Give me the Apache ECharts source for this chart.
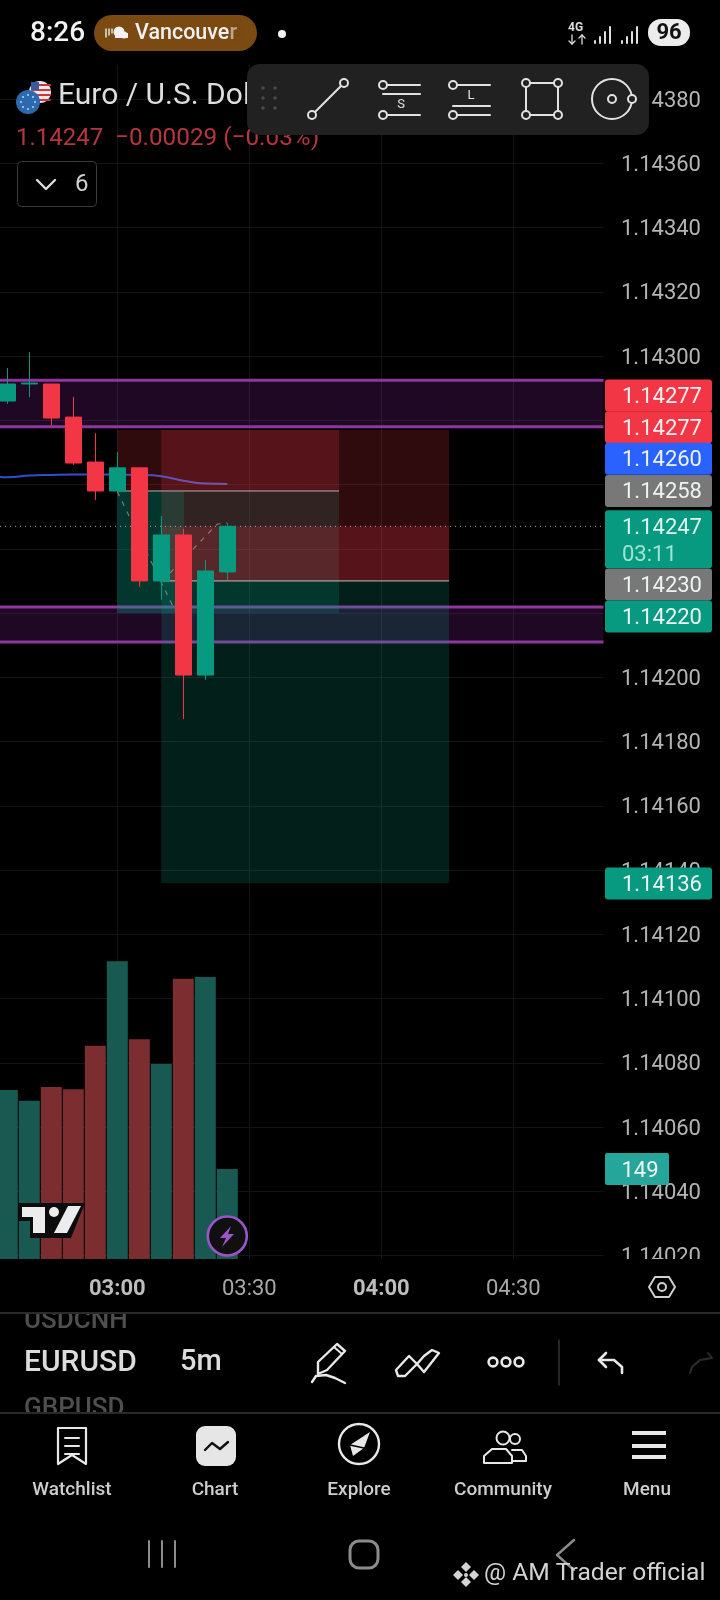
<!DOCTYPE html>
<html><head><meta charset="utf-8">
<style>html,body{margin:0;padding:0;background:#000}#c{width:720px;height:1600px}</style>
<script src="https://cdn.jsdelivr.net/npm/echarts@6/dist/echarts.min.js"></script>
</head><body><div id="c"></div>
<script>
// ---- data (minutes since 00:00, prices) ----
const candleTimes = [155,160,165,170,175,180,185,190,195,200,205];
const opens  = [1.14286,1.142913,1.142913,1.14281,1.14267,1.14258,1.142652,1.1423,1.142443,1.142007,1.142328];
const closes = [1.142913,1.142916,1.142807,1.142667,1.14258,1.142652,1.1423,1.142443,1.142007,1.142331,1.14247];
const lows   = [1.142851,1.142872,1.142784,1.142661,1.142552,1.14258,1.142281,1.142241,1.14187,1.141992,1.142303];
const highs  = [1.142963,1.143012,1.142913,1.142873,1.14276,1.142701,1.142652,1.142502,1.142462,1.142365,1.14248];
const volumes = [280,262,285,281,353,493,364,323,464,467,149];
const maTimes = [150,155,160,165,170,175,180,185,190,195,200,205];
const maValues = [1.14263,1.142623,1.142628,1.14263,1.142631,1.142631,1.142631,1.14263,1.142626,1.142612,1.142603,1.142602];
const priceTicks = [1.1402,1.1404,1.1406,1.1408,1.141,1.1412,1.1414,1.1416,1.1418,1.142,1.1422,1.1424,1.1426,1.1428,1.143,1.1432,1.1434,1.1436,1.1438];
const timeTicks = [180,210,240,270];
const timeTickLabels = ['03:00','03:30','04:00','04:30'];
const resistanceBand = [1.14278,1.142925];
const supportBand = [1.14211,1.142219];
const currentPrice = 1.14247;
// position tools: start, end, stop, entry, target
const toolA = [180,230.4,1.14277,1.14258,1.1422];
const toolB = [190,255.4,1.14277,1.1423,1.14136];
const zigA = [[180,1.142578],[192.7,1.142219]];
const zigB = [[192,1.142325],[202.7,1.142477],[205,1.14248]];
// price tags: shown text, price the tag sits at
const tagTexts = ['1.14277','1.14277','1.14260','1.14258','1.14230','1.14220','1.14136'];
const tagPrices = [1.142877,1.142778,1.14268,1.14258,1.142289,1.142189,1.141358];
const tagKinds = ['red','red','blue','gray','gray','green','green'];
const lastTagText = '1.14247', countdownText = '03:11';
const volumeTagValue = 149;

// ---- style ----
const UP='#089981', DOWN='#f23645', FONT='Roboto';
const KIND={red:'#f23645',blue:'#2962ff',gray:'#787878',green:'#089981'};
const RED_Z='rgba(242,54,69,.2)', GREEN_Z='rgba(8,153,129,.2)', BAND='rgba(156,39,176,.2)', BANDLINE='#8e379f';
const tMin=153.34, tMax=290.5;

const zoneRows=[
 [toolA[0],toolA[1],toolA[2],toolA[3],RED_Z],
 [toolA[0],toolA[1],toolA[3],toolA[4],GREEN_Z],
 [toolB[0],toolB[1],toolB[2],toolB[3],RED_Z],
 [toolB[0],toolB[1],toolB[3],toolB[4],GREEN_Z],
 [toolB[0],toolB[1],currentPrice,toolB[3],RED_Z],
 [toolA[0],195.2,toolA[3],toolA[4],GREEN_Z]
];
const bandRows=[[tMin,tMax,resistanceBand[0],resistanceBand[1],BAND],[tMin,tMax,supportBand[0],supportBand[1],BAND]];
function rectItem(params,api){
  const a=api.coord([api.value(0),api.value(3)]), b=api.coord([api.value(1),api.value(2)]);
  return {type:'rect',shape:{x:a[0],y:a[1],width:b[0]-a[0],height:b[1]-a[1]},style:{fill:api.value(4)},silent:true};
}
function hLineItem(params,api){
  const a=api.coord([api.value(0),api.value(2)]), b=api.coord([api.value(1),api.value(2)]);
  return {type:'line',shape:{x1:a[0],y1:a[1],x2:b[0],y2:b[1]},
    style:{stroke:api.value(3),lineWidth:api.value(4),lineDash:api.value(5)?[1,4]:null},silent:true};
}
function tagItem(params,api){
  const y=api.coord([tMin,api.value(0)])[1];
  const x=params.coordSys.x+params.coordSys.width+1.5;
  return {type:'group',children:[
    {type:'rect',shape:{x:x,y:y-16,width:107,height:32,r:3},style:{fill:KIND[tagKinds[params.dataIndex]]}},
    {type:'text',style:{x:x+17,y:y+2,text:tagTexts[params.dataIndex],fill:'#eef3f1',font:'22px '+FONT,align:'left',verticalAlign:'middle'}}
  ]};
}
const series=[
 {type:'custom',name:'bands',z:1,data:bandRows,renderItem:rectItem,encode:{x:[0,1],y:[2,3]},clip:false,silent:true},
 {type:'custom',name:'bandLines',z:1,data:[resistanceBand[0],resistanceBand[1],supportBand[0],supportBand[1]].map(p=>[tMin,tMax,p,BANDLINE,3,0]),renderItem:hLineItem,encode:{x:[0,1],y:2},clip:false,silent:true},
 {type:'bar',name:'volume',yAxisIndex:1,z:2,barWidth:21,silent:true,
  data:candleTimes.map((t,i)=>({value:[t,volumes[i]],itemStyle:{color:closes[i]>=opens[i]?'#185a51':'#7b2d2f'}}))},
 {type:'custom',name:'zones',z:3,data:zoneRows,renderItem:rectItem,encode:{x:[0,1],y:[2,3]},clip:false,silent:true},
 {type:'custom',name:'levels',z:4,data:[
    [toolA[0],toolA[1],toolA[3],'#b9adad',1,0],[toolB[0],toolB[1],toolB[3],'#c4bcbc',1,0],[tMin,tMax,currentPrice,'#a8a8a0',1,1]],
  renderItem:hLineItem,encode:{x:[0,1],y:2},clip:false,silent:true},
 {type:'line',name:'zigA',z:5,data:zigA,symbol:'none',silent:true,lineStyle:{color:'rgba(175,175,165,.6)',width:1.2,type:[5,6]}},
 {type:'line',name:'zigB',z:5,data:zigB,symbol:'none',silent:true,lineStyle:{color:'rgba(175,175,165,.6)',width:1.2,type:[5,6]}},
 {type:'line',name:'ma',z:5,data:maTimes.map((t,i)=>[t,maValues[i]]),symbol:'none',smooth:true,silent:true,
  lineStyle:{width:2,color:new echarts.graphic.LinearGradient(0,0,1,0,[{offset:0,color:'#2c4fd0'},{offset:.62,color:'#3550c8'},{offset:.8,color:'#6a4fae'},{offset:1,color:'#6f5aa5'}])}},
 {type:'candlestick',name:'EURUSD',z:6,barWidth:17,silent:true,
  data:candleTimes.map((t,i)=>[t,opens[i],closes[i],lows[i],highs[i]]),
  itemStyle:{color:UP,color0:DOWN,borderColor:UP,borderColor0:DOWN,borderWidth:1}},
 {type:'custom',name:'tags',z:50,data:tagPrices.map(p=>[p]),renderItem:tagItem,encode:{y:0},clip:false,silent:true},
 {type:'custom',name:'lastTag',z:50,data:[[currentPrice]],encode:{y:0},clip:false,silent:true,renderItem(params,api){
   const y=api.coord([tMin,api.value(0)])[1], x=params.coordSys.x+params.coordSys.width+1.5;
   return {type:'group',children:[
     {type:'rect',shape:{x:x,y:y-16,width:107,height:58,r:3},style:{fill:KIND.green}},
     {type:'text',style:{x:x+17,y:y+2,text:lastTagText,fill:'#dff5ef',font:'22px '+FONT,align:'left',verticalAlign:'middle'}},
     {type:'text',style:{x:x+17,y:y+29,text:countdownText,fill:'#9fe3d3',font:'22px '+FONT,align:'left',verticalAlign:'middle'}}
   ]};}},
 {type:'custom',name:'volTag',yAxisIndex:1,z:50,data:[[volumeTagValue]],encode:{y:0},clip:false,silent:true,renderItem(params,api){
   const y=api.coord([tMin,api.value(0)])[1], x=params.coordSys.x+params.coordSys.width+1.5;
   return {type:'group',children:[
     {type:'rect',shape:{x:x,y:y-16,width:64,height:32,r:2},style:{fill:'#26a69a'}},
     {type:'text',style:{x:x+35,y:y+2,text:String(volumeTagValue),fill:'#f0f5f4',font:'22px '+FONT,align:'center',verticalAlign:'middle'}}
   ]};}}
];

// ---- interface chrome drawn with graphic elements ----
const g=[]; const Z=100;
function T(text,x,y,size,fill,o){o=o||{};g.push({type:'text',z:o.z||Z,style:{text,x,y:y+2,fill,font:(o.w||400)+' '+size+'px '+FONT,align:o.a||'left',verticalAlign:'middle'},silent:true});}
function R(x,y,w,h,fill,o){o=o||{};g.push({type:'rect',z:o.z||Z,shape:{x,y,width:w,height:h,r:o.r||0},style:{fill:fill||'none',stroke:o.s||null,lineWidth:o.lw||1},silent:true});}
function C(x,y,r,s,f,lw,o){o=o||{};g.push({type:'circle',z:o.z||Z,shape:{cx:x,cy:y,r},style:{fill:f||'none',stroke:s||null,lineWidth:lw||1},silent:true});}
function L(pts,s,lw,o){o=o||{};g.push({type:'polyline',z:o.z||Z,shape:{points:pts},style:{fill:'none',stroke:s,lineWidth:lw||1,lineCap:'round',lineJoin:'round'},silent:true});}
function P(pts,f,o){o=o||{};g.push({type:'polygon',z:o.z||Z,shape:{points:pts},style:{fill:f,stroke:o.s||null,lineWidth:o.lw||1,lineJoin:'round'},silent:true});}

// covers
R(605,1259,115,44,'#000');
R(0,1301,720,12,'#000',{z:102});
R(0,1413,720,9,'#000',{z:102});
// status bar
T('8:26',30,32,28,'#f2f2f2',{w:500});
R(94,15,163,36,'#7a4a12',{r:18});
[106,109,112].forEach((x,i)=>L([[x,37-i*2],[x,29+i*0]],'#eee',1.4));
C(119,32,5.5,null,'#f2f2f2');C(124,35,3.5,null,'#f2f2f2');R(115,33,13,5,'#f2f2f2');
T('Vancouver',135,32,21.5,'#f2f2f2',{w:500});
R(229,24,14,20,'rgba(122,74,18,.45)');
C(282,34,4,null,'#f4f4f4');
T('4G',568,26,12,'#ddd',{w:700});
L([[572,35],[572,44]],'#ddd',1.3);L([[569,41],[572,44],[575,41]],'#ddd',1.3);
L([[582,35],[582,44]],'#ddd',1.3);L([[579,38],[582,35],[585,38]],'#ddd',1.3);
[[595,41],[600,37],[605,32],[610,27]].forEach(a=>L([[a[0],43],[a[0],a[1]]],'#e0e0e0',2));
[[622,41],[627,37],[632,32],[637,27]].forEach(a=>L([[a[0],43],[a[0],a[1]]],'#e0e0e0',2));
R(648,19,42,27,'#ececec',{r:13});
T('96',669,31,22,'#111',{w:700,a:'center'});
// symbol header
C(40,92,11,null,'#e9e9e9');
[85,90,95,100].forEach(y=>L([[32,y],[50,y]],'#c9373f',2));
P([[31,82],[39,82],[39,90],[31,90]],'#3b5aa0');
C(28,102,12,null,'#2c6ab0');
for(let i=0;i<8;i++){const a=i*Math.PI/4;C(28+7*Math.cos(a),102+7*Math.sin(a),1,null,'#bcd4ee');}
T('Euro / U.S. Dol',58,94,30,'#dedede');
T('1.14247',16,137,24,'#b5363f');
T('−0.00029 (−0.03%)',115,137,24.3,'#b5363f');
R(17.5,161.5,79,45,'#000',{r:4,s:'#3a3a3a',lw:1});
L([[37,180],[46,189],[55,180]],'#dcdcdc',2.4);
T('6',75,183,24,'#d0d0d0');
// drawing toolbar
R(247,64,402,71,'#212121',{r:13});
[263,275].forEach(x=>[88,98,108].forEach(y=>C(x,y,1.8,null,'#4b4b4b')));
const W='#e2e2e2';
L([[315,112],[341,86]],W,2);C(312,115,4,W,'#212121',2);C(344,83,4,W,'#212121',2);
L([[387,85],[420,85]],W,2);L([[383,94],[420,94]],W,2);L([[387,115],[420,115]],W,2);C(383,85,4,W,'#212121',2);C(383,115,4,W,'#212121',2);T('S',401,103,13,W,{a:'center'});
L([[457,85],[490,85]],W,2);L([[453,106],[490,106]],W,2);L([[457,115],[490,115]],W,2);C(453,85,4,W,'#212121',2);C(453,115,4,W,'#212121',2);T('L',471,94,13,W,{a:'center'});
R(526,83,32,32,null,{s:W,lw:2});[[526,83],[558,83],[526,115],[558,115]].forEach(a=>C(a[0],a[1],4,W,'#212121',2));
C(612,99,20,W,null,2);C(612,99,4,W,null,2);C(632,99,4,W,'#212121',2);
// tradingview logo + bolt
const LOGO='#ececec';
P([[18,1203],[85,1203],[71,1238],[30,1238],[30,1221],[18,1221]],'#0c0c0c');
P([[22,1207],[45,1207],[45,1233],[33,1233],[33,1217],[22,1217]],LOGO);
C(54,1212,5,null,LOGO);
P([[68,1206],[81,1206],[67,1233],[54,1233]],LOGO);
C(227.3,1236,19.5,'#9a55c8','#101010',2.6);
P([[231,1226],[220,1238],[226,1238],[222,1247],[234,1234],[228,1234]],'#9a55c8');
// hexagon button
P([[649,1287],[655,1277],[669,1277],[675,1287],[669,1297],[655,1297]],'none',{s:'#d0d0d0',lw:2});
C(662,1287,4,'#d0d0d0',null,2);
// toolbar row
L([[0,1313],[720,1313]],'#2a2a2a',2,{z:103});
L([[0,1413],[720,1413]],'#2a2a2a',2,{z:103});
T('USDCNH',24,1319,26,'#4f4f4f',{w:500});
T('EURUSD',24,1361,30,'#dcdcdc',{w:500});
T('5m',180,1361,29,'#dcdcdc',{w:500});
T('GBPUSD',24,1407,26,'#4f4f4f',{w:500});
const I='#e8e8e8';
P([[318,1374],[318,1362],[337,1344],[345,1351],[327,1370]],'none',{s:I,lw:2.4});
L([[334,1347],[342,1354]],I,2);
L([[312,1382],[316,1376],[326,1375],[335,1378],[345,1383]],I,2.4);
P([[396,1370],[409,1356],[417,1364],[424,1356],[432,1350],[439,1353],[424,1372],[417,1364],[405,1376],[398,1376]],'none',{s:I,lw:2.4});
[493,506,519].forEach(x=>C(x,1362,4.4,I,null,2.6));
L([[559,1340],[559,1385]],'#333',1.5);
L([[606,1353],[599,1360],[606,1367]],I,2.6);L([[599,1360],[614,1360],[622,1367],[622,1373]],I,2.6);
L([[708,1353],[712,1358],[700,1360],[692,1367],[690,1373]],'#2c2c2c',2);
// nav bar
L([[58,1428],[86,1428],[86,1464],[72,1455],[58,1464],[58,1428]],I,2.2);
[1438,1446,1454].forEach(y=>L([[65,y],[79,y]],I,2));
R(196,1426,40,40,'#e6e6e6',{r:9});
L([[205,1450],[212,1443],[220,1449],[228,1442]],'#111',2.4);
C(359,1444,20,I,null,2.4);
P([[370,1432],[364,1448],[353,1456],[350,1445]],I);
L([[350,1445],[364,1448]],'#000',1.5);
C(503,1438,6.5,I,null,2);C(515,1439,5,I,null,2);
L([[484,1463],[484,1456],[492,1449],[506,1449],[512,1456],[512,1463],[484,1463]],I,2);
L([[512,1450],[522,1450],[526,1456],[526,1461],[512,1461]],I,2);
[1433,1446,1457].forEach(y=>R(632,y-2,34,4,I));
[['Watchlist',72],['Chart',215],['Explore',359],['Community',503],['Menu',647]].forEach(a=>T(a[0],a[1],1488,19,'#cdcdcd',{w:500,a:'center'}));
// system nav
[149,162,175].forEach(x=>L([[x,1541],[x,1567]],'#8c8c8c',2));
R(350,1541,28,27,null,{r:9,s:'#8c8c8c',lw:3});
L([[574,1540],[557,1555],[574,1570]],'#8c8c8c',2.4);
// watermark
P([[466,1562],[471,1567],[466,1572],[461,1567]],'#d4d4d4');P([[466,1577],[471,1582],[466,1587],[461,1582]],'#d4d4d4');
P([[458,1570],[463,1575],[458,1580],[453,1575]],'#d4d4d4');P([[474,1570],[479,1575],[474,1580],[469,1575]],'#d4d4d4');
C(466,1575,2,null,'#d4d4d4');
T('@ AM Trader official',484,1572,24.6,'#d4d4d4');

const chart=echarts.init(document.getElementById('c'),null,{renderer:'canvas',width:720,height:1600});
chart.setOption({
 backgroundColor:'#000',animation:false,tooltip:{show:false},legend:{show:false},
 grid:{left:0,right:116.5,top:65,bottom:341,containLabel:false},
 xAxis:{type:'value',min:tMin,max:tMax,
   axisLine:{show:false},
   axisTick:{show:false,customValues:timeTicks},
   splitLine:{show:true,lineStyle:{color:'#141414',width:1}},
   axisLabel:{margin:19,customValues:timeTicks,fontFamily:FONT,fontSize:22,color:'#b4b4b4',
     formatter:v=>{const s=timeTickLabels[timeTicks.indexOf(v)];return v%60===0?'{b|'+s+'}':'{n|'+s+'}';},
     rich:{b:{fontFamily:FONT,fontSize:22,fontWeight:700,color:'#bdbdbd'},n:{fontFamily:FONT,fontSize:22,color:'#a8a8a8'}}}},
 yAxis:[
  {type:'value',position:'right',min:1.14018925,max:1.143906,scale:true,
   axisLine:{show:false},
   axisTick:{show:false,customValues:priceTicks},
   splitLine:{show:true,lineStyle:{color:'#141414',width:1}},
   axisLabel:{margin:17.5,verticalAlign:'top',lineHeight:4,customValues:priceTicks,fontFamily:FONT,fontSize:22,color:'#b4b4b4',formatter:v=>v.toFixed(5)}},
  {type:'value',min:0,max:1977,show:false,splitLine:{show:false}}
 ],
 series:series,
 graphic:{elements:g}
});
</script></body></html>
